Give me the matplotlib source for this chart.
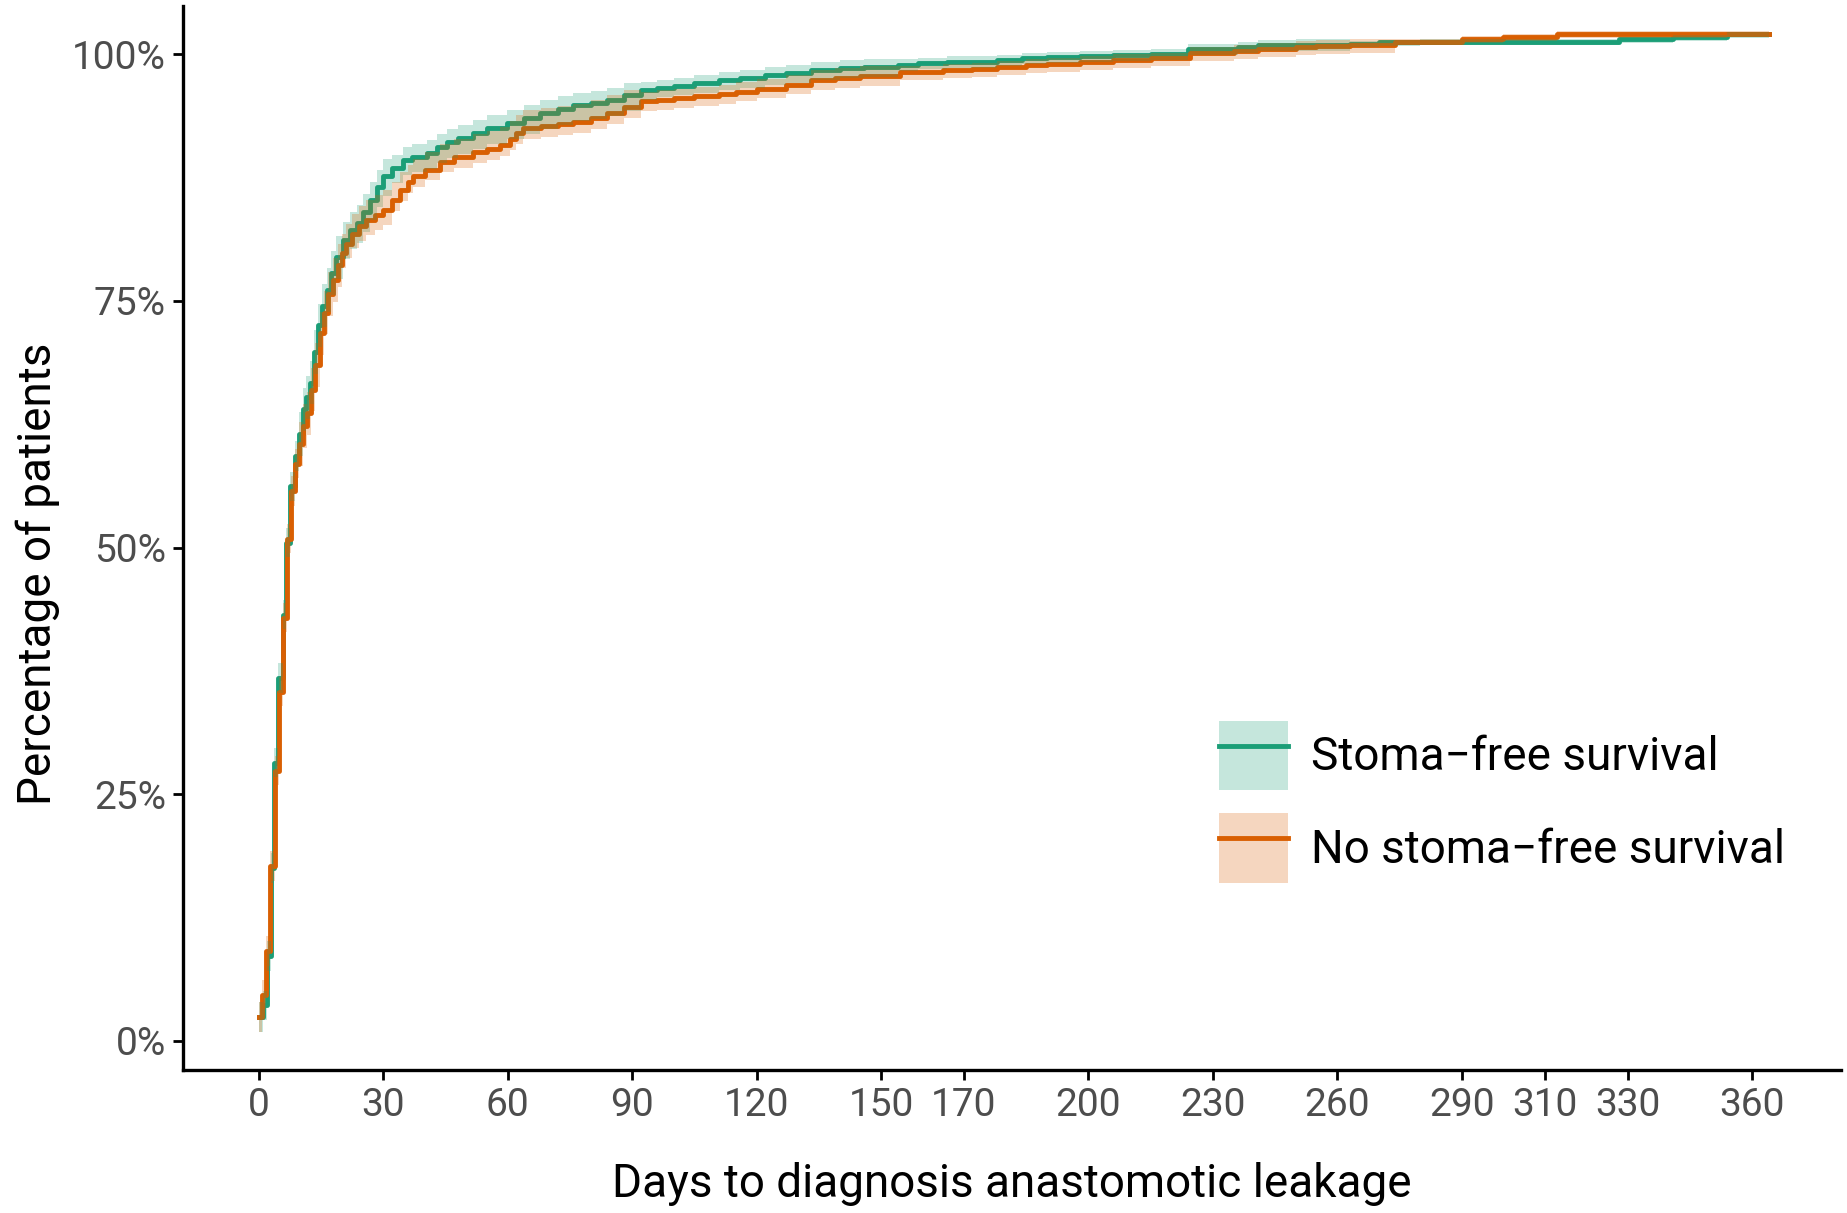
"""Cumulative incidence of anastomotic leakage diagnosis, by stoma-free survival."""

import matplotlib

matplotlib.use("Agg")
import matplotlib.pyplot as plt
import numpy as np
from matplotlib.legend_handler import HandlerTuple
from matplotlib.lines import Line2D
from matplotlib.patches import Patch

plt.rcParams["font.family"] = ["Roboto", "DejaVu Sans"]

# --- Data ------------------------------------------------------------------
# Step curves (percent) with the distance of the confidence band above/below.
GREEN_DAYS = [0, 0.9, 1.9, 2.9, 3.7, 4.7, 5.7, 6.6, 7.6, 8.6,
              9.6, 10.6, 11.4, 12.3, 13.3, 14.3, 15.3, 16.3, 17.3, 18.5,
              20.3, 22, 23.6, 25, 26.8, 28.4, 30, 32, 34.8, 37,
              40.5, 43, 45.3, 48, 51.6, 55, 59.8, 64, 67.8, 72,
              75.7, 80, 84, 88, 92, 96, 100, 105, 111, 116,
              122, 127, 133, 140, 146, 154, 159, 166, 178, 184,
              190, 198, 206, 215, 224, 236, 241, 250, 263, 270,
              280, 328, 341, 354, 364]
GREEN_PCT = [2.4, 3.6, 8.6, 17.5, 28.2, 36.8, 43.2, 50.5, 56.2, 59.3,
             61.5, 64.0, 65.2, 66.7, 69.8, 72.5, 74.5, 76.1, 77.8, 79.4,
             81.2, 82.2, 82.9, 84.0, 85.2, 86.5, 87.6, 88.5, 89.3, 89.6,
             90.0, 90.6, 91.1, 91.5, 92.0, 92.5, 93.0, 93.5, 94.0, 94.4,
             94.8, 95.0, 95.3, 95.8, 96.35, 96.6, 96.8, 97.1, 97.4, 97.6,
             97.9, 98.1, 98.4, 98.55, 98.7, 98.9, 99.05, 99.2, 99.4, 99.55,
             99.7, 99.8, 99.9, 100.0, 100.5, 100.7, 100.9, 100.95, 101.05, 101.2,
             101.25, 101.5, 101.7, 102.0, 102.0]
GREEN_CI_UP = [1.5, 1.5, 1.5, 1.5, 1.5, 1.5, 1.5, 1.5, 1.5, 1.5,
               2.2, 2.2, 2.2, 2.2, 2.2, 2.2, 2.2, 2.2, 2.2, 2.2,
               1.8, 1.8, 1.8, 1.8, 1.8, 1.8, 1.8, 1.3, 1.3, 1.3,
               1.3, 1.3, 1.3, 1.3, 1.3, 1.3, 1.3, 1.3, 1.3, 1.3,
               1.3, 1.3, 1.3, 1.3, 0.8, 0.8, 0.8, 0.8, 0.8, 0.8,
               0.8, 0.8, 0.8, 0.8, 0.8, 0.55, 0.55, 0.55, 0.55, 0.55,
               0.55, 0.55, 0.55, 0.55, 0.55, 0.55, 0.55, 0.55, 0.25, 0.25,
               0.25, 0.25, 0.25, 0.25, 0.25]
GREEN_CI_DOWN = [1.5, 1.5, 1.5, 1.5, 1.5, 1.5, 1.5, 1.5, 1.5, 1.5,
                 2.2, 2.2, 2.2, 2.2, 2.2, 2.2, 2.2, 2.2, 2.2, 2.2,
                 2.0, 2.0, 2.0, 2.0, 2.0, 2.0, 2.0, 1.6, 1.6, 1.6,
                 1.6, 1.6, 1.6, 1.6, 1.6, 1.6, 1.6, 1.6, 1.6, 1.6,
                 1.6, 1.6, 1.6, 1.6, 1.0, 1.0, 1.0, 1.0, 1.0, 1.0,
                 1.0, 1.0, 1.0, 1.0, 1.0, 0.6, 0.6, 0.6, 0.6, 0.6,
                 0.6, 0.6, 0.6, 0.6, 0.6, 0.6, 0.6, 0.6, 0.35, 0.35,
                 0.35, 0.35, 0.35, 0.35, 0.35]

ORANGE_DAYS = [0, 0.7, 1.7, 2.7, 3.9, 4.9, 5.9, 6.7, 7.7, 8.7,
               9.7, 10.7, 11.5, 12.5, 13.5, 14.7, 15.7, 16.7, 17.9, 19,
               20, 21.1, 22.5, 24, 25.9, 28, 30, 32, 34, 36,
               37.2, 40, 43.6, 47, 51.7, 55, 58, 60.5, 62, 63.7,
               68, 72, 75.8, 80, 83.9, 88, 92, 96, 100, 105,
               111, 115, 120, 127, 133, 139, 145, 154.6, 165, 172,
               178, 185, 190, 198, 206, 215, 224.5, 235, 241, 250,
               255, 263, 274, 290, 300, 313, 354, 364]
ORANGE_PCT = [2.4, 4.7, 9.1, 17.7, 27.4, 35.4, 42.9, 50.9, 55.7, 58.5,
              60.5, 62.3, 63.6, 66.0, 68.5, 71.7, 73.8, 75.7, 77.1, 78.6,
              79.8, 80.8, 81.8, 82.6, 83.2, 83.7, 84.2, 85.2, 86.2, 87.0,
              87.6, 88.3, 89.1, 89.6, 90.1, 90.4, 90.8, 91.4, 92.0, 92.5,
              92.7, 92.9, 93.1, 93.5, 94.0, 94.6, 95.2, 95.35, 95.5, 95.7,
              95.9, 96.2, 96.5, 96.9, 97.4, 97.6, 97.8, 98.2, 98.35, 98.5,
              98.7, 98.85, 99.0, 99.2, 99.4, 99.55, 100.1, 100.3, 100.5, 100.7,
              100.85, 100.9, 101.25, 101.5, 101.7, 102.0, 102.05, 102.05]
ORANGE_CI_UP = [1.5, 1.5, 1.5, 1.5, 1.5, 1.5, 1.5, 1.5, 1.5, 1.5,
                2.2, 2.2, 2.2, 2.2, 2.2, 2.2, 2.2, 2.2, 2.2, 2.2,
                2.0, 2.0, 2.0, 2.0, 2.0, 2.0, 2.0, 1.8, 1.8, 1.8,
                1.8, 1.8, 1.8, 1.8, 1.8, 1.8, 1.8, 1.8, 1.8, 1.8,
                1.8, 1.8, 1.8, 1.8, 1.8, 1.8, 1.0, 1.0, 1.0, 1.0,
                1.0, 1.0, 1.0, 1.0, 1.0, 1.0, 1.0, 0.6, 0.6, 0.6,
                0.6, 0.6, 0.6, 0.6, 0.6, 0.6, 0.6, 0.6, 0.6, 0.6,
                0.6, 0.6, 0.3, 0.3, 0.3, 0.3, 0.3, 0.3]
ORANGE_CI_DOWN = [1.5, 1.5, 1.5, 1.5, 1.5, 1.5, 1.5, 1.5, 1.5, 1.5,
                  2.2, 2.2, 2.2, 2.2, 2.2, 2.2, 2.2, 2.2, 2.2, 2.2,
                  1.5, 1.5, 1.5, 1.5, 1.5, 1.5, 1.5, 1.1, 1.1, 1.1,
                  1.1, 1.1, 1.1, 1.1, 1.1, 1.1, 1.1, 1.1, 1.1, 1.1,
                  1.1, 1.1, 1.1, 1.1, 1.1, 1.1, 1.0, 1.0, 1.0, 1.0,
                  1.0, 1.0, 1.0, 1.0, 1.0, 1.0, 1.0, 0.8, 0.8, 0.8,
                  0.8, 0.8, 0.8, 0.8, 0.8, 0.8, 0.8, 0.8, 0.8, 0.8,
                  0.8, 0.8, 0.35, 0.35, 0.35, 0.35, 0.35, 0.35]

GROUP_LABELS = ["Stoma\u2212free survival", "No stoma\u2212free survival"]
X_TICKS = [0, 30, 60, 90, 120, 150, 170, 200, 230, 260, 290, 310, 330, 360]
Y_TICKS = [0, 25, 50, 75, 100]

# --- Style -------------------------------------------------------------------
GREEN = "#1b9e77"
ORANGE = "#d95f02"
BAND_ALPHA = 0.25
LINE_WIDTH = 3.5
TICK_GREY = "#4d4d4d"


def main() -> None:
    fig = plt.figure(figsize=(18.47, 12.13), dpi=100)
    ax = fig.add_axes([0.0989, 0.1179, 0.8979, 0.8771])

    groups = [
        (GREEN_DAYS, GREEN_PCT, GREEN_CI_UP, GREEN_CI_DOWN, GREEN),
        (ORANGE_DAYS, ORANGE_PCT, ORANGE_CI_UP, ORANGE_CI_DOWN, ORANGE),
    ]
    # lines first, the translucent bands are laid over them (as in the original)
    for days, pct, up, down, colour in groups:
        assert len(days) == len(pct) == len(up) == len(down)
        ax.step(days, pct, where="post", color=colour, lw=LINE_WIDTH, zorder=2)
    for days, pct, up, down, colour in groups:
        pct = np.asarray(pct)
        ax.fill_between(days, pct - np.asarray(down), pct + np.asarray(up),
                        step="post", color=colour, alpha=BAND_ALPHA, lw=0,
                        zorder=3)

    ax.set_xlim(-18.4, 381.5)
    ax.set_ylim(-2.94, 104.86)
    ax.set_xticks(X_TICKS)
    ax.set_yticks(Y_TICKS)
    ax.set_yticklabels([f"{v}%" for v in Y_TICKS])

    for side in ("top", "right"):
        ax.spines[side].set_visible(False)
    for side in ("left", "bottom"):
        ax.spines[side].set_linewidth(2.4)
        ax.spines[side].set_color("black")
    ax.tick_params(axis="both", length=7, width=2, color="black",
                   labelsize=28, labelcolor=TICK_GREY)
    ax.tick_params(axis="x", pad=5)
    ax.tick_params(axis="y", pad=5)

    ax.set_xlabel("Days to diagnosis anastomotic leakage", fontsize=33,
                  va="center")
    ax.xaxis.set_label_coords(0.5, -0.107)
    ax.set_ylabel("Percentage of patients", fontsize=33, va="center")
    ax.yaxis.set_label_coords(-0.0872, 0.466)

    handles = [
        (Patch(facecolor=colour, alpha=BAND_ALPHA, lw=0),
         Line2D([], [], color=colour, lw=LINE_WIDTH))
        for colour in (GREEN, ORANGE)
    ]
    ax.legend(handles, GROUP_LABELS, handler_map={tuple: HandlerTuple(ndivide=1)},
              loc="upper left", bbox_to_anchor=(0.625, 0.328), frameon=False,
              fontsize=33, borderpad=0, borderaxespad=0, handlelength=1.5,
              handleheight=1.95, handletextpad=0.5, labelspacing=0.5)

    fig.savefig("out.png", dpi=100, facecolor="white")


if __name__ == "__main__":
    main()
